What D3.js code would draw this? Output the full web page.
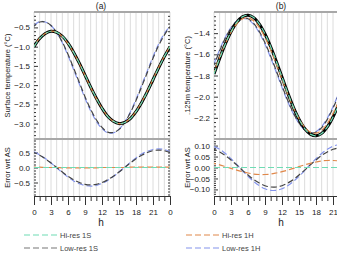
<!DOCTYPE html>
<html><head><meta charset="utf-8">
<script src="https://cdn.jsdelivr.net/npm/d3@7"></script>
<style>body{margin:0;background:#fff;overflow:hidden}text{font-family:"Liberation Sans",Arial,sans-serif}</style>
</head><body><svg id="c" width="337" height="254"></svg>
<script>
const hours = [0,1,2,3,4,5,6,7,8,9,10,11,12,13,14,15,16,17,18,19,20,21,22,23,24];
const xTickValues = [0,3,6,9,12,15,18,21,24];
const xTickLabels = ["0","3","6","9","12","15","18","21","0"];

// Panel (a) surface temperature
const asA   = [-1.00,-0.79,-0.66,-0.60,-0.63,-0.73,-0.91,-1.15,-1.43,-1.74,-2.05,-2.34,-2.60,-2.81,-2.94,-3.00,-2.97,-2.87,-2.69,-2.45,-2.17,-1.86,-1.55,-1.26,-1.00];
const hr1sA = [-1.00,-0.79,-0.66,-0.60,-0.63,-0.73,-0.91,-1.15,-1.43,-1.74,-2.05,-2.34,-2.60,-2.81,-2.94,-3.00,-2.97,-2.87,-2.69,-2.45,-2.17,-1.86,-1.55,-1.26,-1.00];
const hr1hA = [-0.99,-0.78,-0.66,-0.60,-0.63,-0.74,-0.92,-1.16,-1.44,-1.75,-2.06,-2.35,-2.60,-2.81,-2.94,-3.00,-2.97,-2.86,-2.68,-2.44,-2.16,-1.85,-1.54,-1.25,-0.99];
const lr1sA = [-0.47,-0.36,-0.36,-0.45,-0.63,-0.88,-1.20,-1.56,-1.93,-2.30,-2.63,-2.90,-3.10,-3.22,-3.23,-3.15,-2.97,-2.72,-2.40,-2.04,-1.67,-1.30,-0.97,-0.70,-0.48];
const lr1hA = [-0.45,-0.35,-0.36,-0.45,-0.64,-0.90,-1.23,-1.60,-1.97,-2.34,-2.67,-2.94,-3.13,-3.24,-3.24,-3.15,-2.96,-2.70,-2.37,-2.00,-1.63,-1.26,-0.93,-0.66,-0.46];
const errHr1sA = [0,0,0,0,0,0,0,0,0,0,0,0,0,0,0,0,0,0,0,0,0,0,0,0,0];
const errHr1hA = [0.01,0.01,0.00,0.00,0.00,-0.01,-0.01,-0.01,-0.01,-0.01,-0.01,-0.01,0.00,0.00,0.00,0.00,0.00,0.01,0.01,0.01,0.01,0.01,0.01,0.01,0.01];
const errLr1sA = [0.50,0.41,0.29,0.15,0.00,-0.15,-0.29,-0.41,-0.50,-0.56,-0.58,-0.56,-0.50,-0.41,-0.29,-0.15,0.00,0.15,0.29,0.41,0.50,0.56,0.58,0.56,0.50];
const errLr1hA = [0.52,0.42,0.30,0.15,-0.01,-0.17,-0.32,-0.45,-0.54,-0.60,-0.62,-0.60,-0.53,-0.43,-0.30,-0.15,0.01,0.17,0.32,0.45,0.54,0.60,0.62,0.60,0.53];

// Panel (b) 125 m temperature
const asB   = [-1.785,-1.638,-1.502,-1.387,-1.299,-1.246,-1.230,-1.253,-1.314,-1.408,-1.528,-1.667,-1.815,-1.962,-2.098,-2.213,-2.301,-2.354,-2.370,-2.347,-2.286,-2.192,-2.072,-1.933,-1.785];
const hr1sB = [-1.785,-1.638,-1.502,-1.387,-1.299,-1.246,-1.230,-1.253,-1.314,-1.408,-1.528,-1.667,-1.815,-1.962,-2.098,-2.213,-2.301,-2.354,-2.370,-2.347,-2.286,-2.192,-2.072,-1.933,-1.785];
const hr1hB = [-1.766,-1.626,-1.498,-1.391,-1.311,-1.265,-1.255,-1.283,-1.346,-1.440,-1.558,-1.692,-1.834,-1.974,-2.102,-2.209,-2.289,-2.335,-2.345,-2.317,-2.254,-2.160,-2.042,-1.908,-1.766];
const lr1sB = [-1.702,-1.567,-1.447,-1.353,-1.287,-1.258,-1.264,-1.308,-1.385,-1.491,-1.617,-1.756,-1.898,-2.033,-2.153,-2.247,-2.313,-2.342,-2.336,-2.292,-2.215,-2.109,-1.983,-1.844,-1.702];
const lr1hB = [-1.690,-1.555,-1.438,-1.347,-1.285,-1.260,-1.270,-1.317,-1.397,-1.505,-1.632,-1.771,-1.912,-2.045,-2.162,-2.253,-2.315,-2.340,-2.330,-2.283,-2.203,-2.095,-1.968,-1.829,-1.690];
const errHr1sB = [0,0,0,0,0,0,0,0,0,0,0,0,0,0,0,0,0,0,0,0,0,0,0,0,0];
const errHr1hB = [0.019,0.012,0.004,-0.004,-0.012,-0.019,-0.025,-0.030,-0.032,-0.032,-0.030,-0.025,-0.019,-0.012,-0.004,0.004,0.012,0.019,0.025,0.030,0.032,0.032,0.030,0.025,0.019];
const errLr1sB = [0.083,0.071,0.055,0.034,0.012,-0.012,-0.034,-0.055,-0.071,-0.083,-0.089,-0.089,-0.083,-0.071,-0.055,-0.034,-0.012,0.012,0.034,0.055,0.071,0.083,0.089,0.089,0.083];
const errLr1hB = [0.095,0.083,0.064,0.040,0.014,-0.014,-0.040,-0.064,-0.083,-0.097,-0.104,-0.104,-0.097,-0.083,-0.064,-0.040,-0.014,0.014,0.040,0.064,0.083,0.097,0.104,0.104,0.097];

const seriesNames = ["Hi-res 1S","Low-res 1S","Hi-res 1H","Low-res 1H"];
const colors = {AS:"#000", hr1s:"#6fdcb4", lr1s:"#444", hr1h:"#e0884a", lr1h:"#8494ec"};

const W = 337;
const svg = d3.select("#c");
const topY0 = 12, midY = 139, botY1 = 196;

function panel(opts){
  const x = d3.scaleLinear().domain([0,24]).range([opts.x0, opts.x0+136]);
  const yT = d3.scaleLinear().domain(opts.topDom).range([midY, topY0]);
  const yB = d3.scaleLinear().domain(opts.botDom).range([botY1, midY]);
  const g = svg.append("g");
  const id = opts.id;
  const defs = svg.append("defs");
  defs.append("clipPath").attr("id","ct"+id).append("rect").attr("x",opts.x0).attr("y",topY0).attr("width",136).attr("height",midY-topY0);
  defs.append("clipPath").attr("id","cb"+id).append("rect").attr("x",opts.x0).attr("y",midY).attr("width",136).attr("height",botY1-midY);
  // grid
  g.append("g").selectAll("line").data(hours).join("line")
    .attr("x1",d=>x(d)).attr("x2",d=>x(d)).attr("y1",topY0).attr("y2",botY1)
    .attr("stroke","#dcdcdc").attr("stroke-width",1);
  function yAxis(scale, major, minor, fmt){
    const lg = g.append("g").attr("transform",`translate(${opts.x0},0)`)
      .call(d3.axisLeft(scale).tickValues(major).tickFormat(fmt).tickSizeInner(-4).tickSizeOuter(0).tickPadding(4));
    lg.select(".domain").remove();
    lg.selectAll("text").attr("font-size",8).attr("fill","#222");
    lg.selectAll("line").attr("stroke","#333");
    const mg = g.append("g").attr("transform",`translate(${opts.x0},0)`)
      .call(d3.axisLeft(scale).tickValues(minor).tickFormat("").tickSizeInner(-2).tickSizeOuter(0));
    mg.select(".domain").remove(); mg.selectAll("line").attr("stroke","#333");
    const rg = g.append("g").attr("transform",`translate(${opts.x0+136},0)`)
      .call(d3.axisRight(scale).tickValues(minor.concat(major)).tickFormat("").tickSizeInner(-2).tickSizeOuter(0));
    rg.select(".domain").remove(); rg.selectAll("line").attr("stroke","#333");
  }
  yAxis(yT, opts.topMajor, opts.topMinor, opts.topFmt);
  yAxis(yB, opts.botMajor, opts.botMinor, opts.botFmt);
  g.append("line").attr("x1",opts.x0).attr("x2",opts.x0+136).attr("y1",topY0).attr("y2",topY0).attr("stroke","#a8a8a8").attr("stroke-width",2);
  g.append("line").attr("x1",opts.x0).attr("x2",opts.x0+136).attr("y1",midY).attr("y2",midY).attr("stroke","#a8a8a8").attr("stroke-width",2);
  // x axis
  const xa = g.append("g").attr("transform",`translate(0,${botY1})`)
    .call(d3.axisBottom(x).tickValues(xTickValues).tickFormat((d,i)=>xTickLabels[i]).tickSizeInner(9).tickSizeOuter(0).tickPadding(4));
  xa.select(".domain").attr("stroke","#333");
  xa.selectAll("line").attr("stroke","#333");
  xa.selectAll("text").attr("font-size",8).attr("fill","#222");
  xa.selectAll(".tick").filter(d=>x(d)+4>W).select("text").remove();
  const xm = g.append("g").attr("transform",`translate(0,${botY1})`)
    .call(d3.axisBottom(x).tickValues(hours.filter(h=>h%3!==0)).tickFormat("").tickSizeInner(5).tickSizeOuter(0));
  xm.select(".domain").remove(); xm.selectAll("line").attr("stroke","#333");
  g.append("text").attr("x",opts.x0+67).attr("y",226).attr("text-anchor","middle").attr("font-size",10).attr("fill","#222").text("h");
  g.append("text").attr("x",opts.x0+67).attr("y",9).attr("text-anchor","middle").attr("font-size",8.5).attr("fill","#222").text(opts.title);
  g.append("text").attr("transform",`translate(${opts.x0-24},${(topY0+midY)/2}) rotate(-90)`).attr("text-anchor","middle").attr("font-size",7.5).attr("fill","#222").text(opts.topLabel);
  g.append("text").attr("transform",`translate(${opts.x0-24},${(midY+botY1)/2}) rotate(-90)`).attr("text-anchor","middle").attr("font-size",7.5).attr("fill","#222").text("Error wrt AS");

  const curve = d3.curveCatmullRom;
  const lt = d3.line().x((d,i)=>x(hours[i])).y(d=>yT(d)).curve(curve);
  const lb = d3.line().x((d,i)=>x(hours[i])).y(d=>yB(d)).curve(curve);
  const gt = g.append("g").attr("clip-path",`url(#ct${id})`);
  const gb = g.append("g").attr("clip-path",`url(#cb${id})`);
  function draw(grp, gen, data, color, w, dash, off){
    grp.append("path").datum(data).attr("d",gen).attr("fill","none").attr("stroke",color)
      .attr("stroke-width",w).attr("stroke-dasharray",dash||null).attr("stroke-dashoffset",off||0);
  }
  draw(gt, lt, opts.lr1h, colors.lr1h, 1.2, "6,3");
  draw(gt, lt, opts.lr1s, colors.lr1s, 1.2, "6,3", 3);
  draw(gt, lt, opts.as, colors.AS, 3);
  draw(gt, lt, opts.hr1h, colors.hr1h, 1.2, "6,3", 4);
  draw(gt, lt, opts.hr1s, colors.hr1s, 1.2, "6,3");
  draw(gb, lb, opts.eLr1h, colors.lr1h, 1.2, "6,3");
  draw(gb, lb, opts.eLr1s, colors.lr1s, 1.2, "6,3", 3);
  draw(gb, lb, opts.eHr1h, colors.hr1h, 1.2, "6,3", 4);
  draw(gb, lb, opts.eHr1s, colors.hr1s, 1.2, "6,3");
}

panel({id:"a", x0:34, title:"(a)", topLabel:"Surface temperature (\u00B0C)",
  topDom:[-3.4,-0.1], botDom:[-0.95,0.95],
  topMajor:[-3.0,-2.5,-2.0,-1.5,-1.0,-0.5], topMinor:[-3.3,-3.2,-3.1,-2.9,-2.8,-2.7,-2.6,-2.4,-2.3,-2.2,-2.1,-1.9,-1.8,-1.7,-1.6,-1.4,-1.3,-1.2,-1.1,-0.9,-0.8,-0.7,-0.6,-0.4,-0.3,-0.2],
  botMajor:[-0.5,0,0.5], botMinor:[-0.9,-0.8,-0.7,-0.6,-0.4,-0.3,-0.2,-0.1,0.1,0.2,0.3,0.4,0.6,0.7,0.8,0.9],
  topFmt:d3.format(".1f"), botFmt:d3.format(".1f"),
  as:asA, hr1s:hr1sA, hr1h:hr1hA, lr1s:lr1sA, lr1h:lr1hA,
  eHr1s:errHr1sA, eHr1h:errHr1hA, eLr1s:errLr1sA, eLr1h:errLr1hA});

panel({id:"b", x0:214, title:"(b)", topLabel:".125m temperature (\u00B0C)",
  topDom:[-2.4,-1.2], botDom:[-0.13,0.13],
  topMajor:[-2.2,-2.0,-1.8,-1.6,-1.4], topMinor:[-2.36,-2.32,-2.28,-2.24,-2.16,-2.12,-2.08,-2.04,-1.96,-1.92,-1.88,-1.84,-1.76,-1.72,-1.68,-1.64,-1.56,-1.52,-1.48,-1.44,-1.36,-1.32,-1.28,-1.24],
  botMajor:[-0.10,-0.05,0,0.05,0.10], botMinor:[-0.12,-0.11,-0.09,-0.08,-0.07,-0.06,-0.04,-0.03,-0.02,-0.01,0.01,0.02,0.03,0.04,0.06,0.07,0.08,0.09,0.11,0.12],
  topFmt:d3.format(".1f"), botFmt:d3.format(".2f"),
  as:asB, hr1s:hr1sB, hr1h:hr1hB, lr1s:lr1sB, lr1h:lr1hB,
  eHr1s:errHr1sB, eHr1h:errHr1hB, eLr1s:errLr1sB, eLr1h:errLr1hB});

// legend
const legendItems = [
  {name:seriesNames[0], color:colors.hr1s, x:24, y:235},
  {name:seriesNames[1], color:"#777", x:24, y:248},
  {name:seriesNames[2], color:colors.hr1h, x:186, y:235},
  {name:seriesNames[3], color:colors.lr1h, x:186, y:248}
];
const lg = svg.append("g");
lg.selectAll("line").data(legendItems).join("line")
  .attr("x1",d=>d.x).attr("x2",d=>d.x+33).attr("y1",d=>d.y).attr("y2",d=>d.y)
  .attr("stroke",d=>d.color).attr("stroke-width",1.2).attr("stroke-dasharray","6,3");
lg.selectAll("text").data(legendItems).join("text")
  .attr("x",d=>d.x+36).attr("y",d=>d.y+3).attr("font-size",7.5).attr("fill","#444").text(d=>d.name);
</script></body></html>
